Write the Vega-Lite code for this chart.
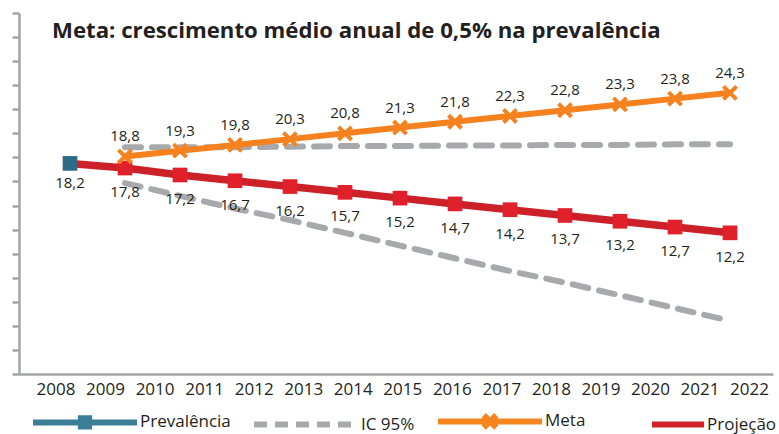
{
  "$schema": "https://vega.github.io/schema/vega-lite/v6.json",
  "width": 754,
  "height": 361,
  "autosize": {"type": "none"},
  "padding": {"left": 19, "top": 13, "right": 6, "bottom": 60},
  "background": "white",
  "config": {
    "view": {"stroke": null},
    "font": "Open Sans",
    "locale": {"number": {"decimal": ",", "thousands": ".", "grouping": [3], "currency": ["R$", ""]}}
  },
  "title": {
    "text": "Meta: crescimento médio anual de 0,5% na prevalência",
    "anchor": "start",
    "frame": "group",
    "orient": "top",
    "offset": -48,
    "dx": 33,
    "baseline": "alphabetic",
    "font": "Open Sans",
    "fontSize": 22.2,
    "fontWeight": "bold",
    "color": "#231f20"
  },
  "datasets": {
    "d": [
      {"s": "Prevalência", "b": "p", "ano": 2008, "v": 18.2},
      {"s": "Projeção", "b": "p", "ano": 2008, "v": 18.2},
      {"s": "Projeção", "b": "p", "ano": 2009, "v": 17.8},
      {"s": "Projeção", "b": "p", "ano": 2010, "v": 17.2},
      {"s": "Projeção", "b": "p", "ano": 2011, "v": 16.7},
      {"s": "Projeção", "b": "p", "ano": 2012, "v": 16.2},
      {"s": "Projeção", "b": "p", "ano": 2013, "v": 15.7},
      {"s": "Projeção", "b": "p", "ano": 2014, "v": 15.2},
      {"s": "Projeção", "b": "p", "ano": 2015, "v": 14.7},
      {"s": "Projeção", "b": "p", "ano": 2016, "v": 14.2},
      {"s": "Projeção", "b": "p", "ano": 2017, "v": 13.7},
      {"s": "Projeção", "b": "p", "ano": 2018, "v": 13.2},
      {"s": "Projeção", "b": "p", "ano": 2019, "v": 12.7},
      {"s": "Projeção", "b": "p", "ano": 2020, "v": 12.2},
      {"s": "Meta", "b": "m", "ano": 2009, "v": 18.8},
      {"s": "Meta", "b": "m", "ano": 2010, "v": 19.3},
      {"s": "Meta", "b": "m", "ano": 2011, "v": 19.8},
      {"s": "Meta", "b": "m", "ano": 2012, "v": 20.3},
      {"s": "Meta", "b": "m", "ano": 2013, "v": 20.8},
      {"s": "Meta", "b": "m", "ano": 2014, "v": 21.3},
      {"s": "Meta", "b": "m", "ano": 2015, "v": 21.8},
      {"s": "Meta", "b": "m", "ano": 2016, "v": 22.3},
      {"s": "Meta", "b": "m", "ano": 2017, "v": 22.8},
      {"s": "Meta", "b": "m", "ano": 2018, "v": 23.3},
      {"s": "Meta", "b": "m", "ano": 2019, "v": 23.8},
      {"s": "Meta", "b": "m", "ano": 2020, "v": 24.3},
      {"s": "IC 95%", "b": "sup", "ano": 2009, "v": 19.6},
      {"s": "IC 95%", "b": "sup", "ano": 2010, "v": 19.6},
      {"s": "IC 95%", "b": "sup", "ano": 2011, "v": 19.6},
      {"s": "IC 95%", "b": "sup", "ano": 2012, "v": 19.65},
      {"s": "IC 95%", "b": "sup", "ano": 2013, "v": 19.7},
      {"s": "IC 95%", "b": "sup", "ano": 2014, "v": 19.7},
      {"s": "IC 95%", "b": "sup", "ano": 2015, "v": 19.75},
      {"s": "IC 95%", "b": "sup", "ano": 2016, "v": 19.75},
      {"s": "IC 95%", "b": "sup", "ano": 2017, "v": 19.8},
      {"s": "IC 95%", "b": "sup", "ano": 2018, "v": 19.8},
      {"s": "IC 95%", "b": "sup", "ano": 2019, "v": 19.85},
      {"s": "IC 95%", "b": "sup", "ano": 2020, "v": 19.85},
      {"s": "IC 95%", "b": "inf", "ano": 2009, "v": 16.5},
      {"s": "IC 95%", "b": "inf", "ano": 2010, "v": 15.4},
      {"s": "IC 95%", "b": "inf", "ano": 2011, "v": 14.3},
      {"s": "IC 95%", "b": "inf", "ano": 2012, "v": 13.3},
      {"s": "IC 95%", "b": "inf", "ano": 2013, "v": 12.2},
      {"s": "IC 95%", "b": "inf", "ano": 2014, "v": 11.1},
      {"s": "IC 95%", "b": "inf", "ano": 2015, "v": 10.0},
      {"s": "IC 95%", "b": "inf", "ano": 2016, "v": 8.9},
      {"s": "IC 95%", "b": "inf", "ano": 2017, "v": 7.9},
      {"s": "IC 95%", "b": "inf", "ano": 2018, "v": 6.8},
      {"s": "IC 95%", "b": "inf", "ano": 2019, "v": 5.7},
      {"s": "IC 95%", "b": "inf", "ano": 2020, "v": 4.6}
    ],
    "anos": [
      {"ano": 2008}, {"ano": 2009}, {"ano": 2010}, {"ano": 2011}, {"ano": 2012},
      {"ano": 2013}, {"ano": 2014}, {"ano": 2015}, {"ano": 2016}, {"ano": 2017},
      {"ano": 2018}, {"ano": 2019}, {"ano": 2020}, {"ano": 2021}, {"ano": 2022}
    ]
  },
  "layer": [
    {
      "data": {"name": "d"},
      "encoding": {
        "x": {"field": "ano", "type": "quantitative", "scale": {"domain": [2007.0727, 2020.7818], "nice": false, "zero": false}, "axis": null},
        "y": {
          "field": "v", "type": "quantitative",
          "scale": {"domain": [0, 31.2], "nice": false},
          "axis": {
            "title": null, "labels": false, "grid": false,
            "values": [0, 2.08, 4.16, 6.24, 8.32, 10.4, 12.48, 14.56, 16.64, 18.72, 20.8, 22.88, 24.96, 27.04, 29.12, 31.2],
            "domainColor": "#a3a5a8", "domainWidth": 2.5, "tickColor": "#a3a5a8", "tickWidth": 2.5, "tickSize": 7
          }
        }
      },
      "layer": [
        {
          "transform": [{"filter": "datum.s === 'IC 95%'"}],
          "mark": {"type": "line", "color": "#a7a9ac", "strokeWidth": 6, "strokeDash": [16, 11], "strokeCap": "round"},
          "encoding": {"detail": {"field": "b", "type": "nominal"}}
        },
        {
          "transform": [{"filter": "datum.s === 'Projeção'"}],
          "mark": {"type": "line", "color": "#cc2129", "strokeWidth": 7.5},
          "encoding": {}
        },
        {
          "transform": [{"filter": "datum.s === 'Meta'"}],
          "mark": {"type": "line", "color": "#f5821f", "strokeWidth": 6},
          "encoding": {}
        },
        {
          "transform": [{"filter": "datum.s === 'Projeção' && datum.ano > 2008"}],
          "mark": {"type": "point", "shape": "square", "filled": true, "size": 215, "color": "#e0202a", "opacity": 1}
        },
        {
          "transform": [{"filter": "datum.s === 'Meta'"}],
          "mark": {"type": "point", "shape": "M-1,-1L1,1M-1,1L1,-1", "filled": false, "size": 170, "strokeWidth": 4, "color": "#f5821f", "opacity": 1}
        },
        {
          "transform": [{"filter": "datum.s === 'Prevalência'"}],
          "mark": {"type": "point", "shape": "square", "filled": true, "size": 215, "color": "#2d6b86", "opacity": 1}
        },
        {
          "transform": [{"filter": "datum.s === 'Meta'"}],
          "mark": {"type": "text", "dy": -20, "fontSize": 15, "color": "#231f20", "baseline": "middle"},
          "encoding": {"text": {"field": "v", "type": "quantitative", "format": ".1f"}}
        },
        {
          "transform": [{"filter": "datum.s === 'Projeção' && datum.ano > 2008"}],
          "mark": {"type": "text", "dy": 24, "fontSize": 15, "color": "#231f20", "baseline": "middle"},
          "encoding": {"text": {"field": "v", "type": "quantitative", "format": ".1f"}}
        },
        {
          "transform": [{"filter": "datum.s === 'Prevalência'"}],
          "mark": {"type": "text", "dy": 20, "fontSize": 15, "color": "#231f20", "baseline": "middle"},
          "encoding": {"text": {"field": "v", "type": "quantitative", "format": ".1f"}}
        },
        {
          "mark": {"type": "point", "opacity": 0, "filled": false, "size": 10816},
          "encoding": {
            "color": {
              "field": "s", "type": "nominal",
              "scale": {"domain": ["Prevalência", "IC 95%", "Meta", "Projeção"], "range": ["#3a7f96", "#a7a9ac", "#f5861f", "#d3222a"]},
              "legend": {"title": null, "orient": "none", "legendX": 11, "legendY": 353, "direction": "horizontal", "symbolSize": 10816, "symbolStrokeWidth": 6, "symbolOpacity": 1, "labelFont": "Open Sans", "labelFontSize": 17, "labelColor": "#231f20", "labelOffset": 0, "columnPadding": 11, "padding": 0, "encode": {"symbols": {"update": {"strokeCap": {"value": "round"}}}}}
            },
            "shape": {
              "field": "s", "type": "nominal",
              "scale": {"domain": ["Prevalência", "IC 95%", "Meta", "Projeção"], "range": ["M-1,0H1M-0.08,-0.08H0.08V0.08H-0.08Z", "M-1,0H1", "M-1,0H1M-0.12,-0.12L0.12,0.12M-0.12,0.12L0.12,-0.12", "M0,0H1"]},
              "legend": {"title": null, "orient": "none", "legendX": 11, "legendY": 353, "direction": "horizontal", "symbolSize": 10816, "symbolStrokeWidth": 6, "symbolOpacity": 1, "labelFont": "Open Sans", "labelFontSize": 17, "labelColor": "#231f20", "labelOffset": 0, "columnPadding": 11, "padding": 0, "encode": {"symbols": {"update": {"strokeCap": {"value": "round"}}}}}
            },
            "strokeDash": {
              "field": "s", "type": "nominal",
              "scale": {"domain": ["Prevalência", "IC 95%", "Meta", "Projeção"], "range": [[1, 0], [13, 8], [1, 0], [1, 0]]},
              "legend": {"title": null, "orient": "none", "legendX": 11, "legendY": 353, "direction": "horizontal", "symbolSize": 10816, "symbolStrokeWidth": 6, "symbolOpacity": 1, "labelFont": "Open Sans", "labelFontSize": 17, "labelColor": "#231f20", "labelOffset": 0, "columnPadding": 11, "padding": 0, "encode": {"symbols": {"update": {"strokeCap": {"value": "round"}}}}}
            }
          }
        }
      ]
    },
    {
      "data": {"name": "anos"},
      "mark": {"type": "point", "opacity": 0},
      "encoding": {
        "x": {
          "field": "ano", "type": "quantitative",
          "scale": {"domain": [2007.2632, 2022.4832], "nice": false, "zero": false},
          "axis": {
            "orient": "bottom", "title": null, "grid": false, "ticks": false, "tickSize": 0,
            "values": [2008, 2009, 2010, 2011, 2012, 2013, 2014, 2015, 2016, 2017, 2018, 2019, 2020, 2021, 2022],
            "format": "d", "labelFlush": false, "labelOverlap": false, "labelPadding": 7,
            "labelFontSize": 17, "labelColor": "#231f20", "labelFont": "Open Sans",
            "domainColor": "#a3a5a8", "domainWidth": 2.5
          }
        }
      }
    }
  ],
  "resolve": {"scale": {"x": "independent"}, "axis": {"x": "independent"}}
}
